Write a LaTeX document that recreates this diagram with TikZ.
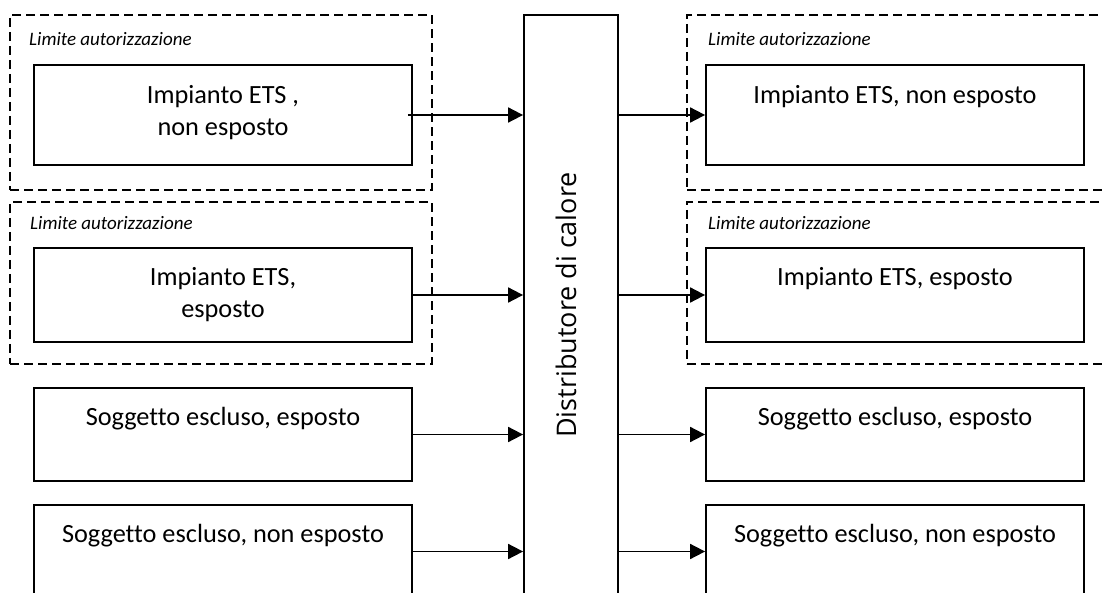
\documentclass[tikz,border=0pt]{standalone}
\usepackage{fontspec}
\setmainfont{Carlito}[Ligatures=NoCommon]
\newfontfamily\distrfont{Open Sans}
\usetikzlibrary{arrows.meta}
\tikzstyle{blocco} = [rectangle, minimum width=378pt, draw=black, line width=1.8pt]
\tikzstyle{limite} = [rectangle, draw=black, dash pattern=on 9pt off 5pt, line width=1.5pt]
\tikzstyle{testo} = [anchor=north, align=center, inner sep=0pt, font=\fontsize{26.3}{32}\selectfont]
\tikzstyle{nota} = [anchor=base west, inner sep=0pt, font=\fontsize{19}{22}\selectfont\itshape]
\tikzstyle{freccia} = [line width=1.8pt,-{Triangle[length=15pt,width=15pt]}]

\begin{document}
\begin{tikzpicture}[x=1pt, y=-1pt]
        \useasboundingbox (0,0) rectangle (1102,593);
        \clip (0,0) rectangle (1102,593);
        % limiti autorizzazione
        \node (limsx1) [limite, minimum width=422pt, minimum height=175pt] at (221,102.5) {};
        \node (limsx2) [limite, minimum width=422pt, minimum height=162pt] at (221,283) {};
        \node (limdx1) [limite, minimum width=440pt, minimum height=175pt] at (907,102.5) {};
        \node (limdx2) [limite, minimum width=440pt, minimum height=162pt] at (907,283) {};
        \node (notasx1) [nota] at (29,45.7) {Limite autorizzazione};
        \node (notasx2) [nota] at (30,230) {Limite autorizzazione};
        \node (notadx1) [nota] at (708,45.7) {Limite autorizzazione};
        \node (notadx2) [nota] at (708,230) {Limite autorizzazione};
        % distributore
        \node (distr) [blocco, minimum width=94pt, minimum height=600pt] at (571,315) {};
        \node (distrtxt) [rotate=90, inner sep=0pt, font=\distrfont\fontsize{27}{32}\selectfont] at (566,305) {Distributore di calore};
        % impianti a sinistra
        \node (etsne) [blocco, minimum height=100pt] at (223,115) {};
        \node (etsnetxt) [testo] at ([yshift=-21pt]etsne.north) {Impianto ETS ,\\non esposto};
        \node (etse) [blocco, minimum height=94pt] at (223,295) {};
        \node (etsetxt) [testo] at ([yshift=-20pt]etse.north) {Impianto ETS,\\esposto};
        \node (escle) [blocco, minimum height=93pt] at (223,434.5) {};
        \node (escletxt) [testo] at ([yshift=-20pt]escle.north) {Soggetto escluso, esposto};
        \node (esclne) [blocco, minimum height=93pt] at (223,551.5) {};
        \node (esclnetxt) [testo] at ([yshift=-20pt]esclne.north) {Soggetto escluso, non esposto};
        % impianti a destra
        \node (detsne) [blocco, minimum height=100pt] at (895,115) {};
        \node (detsnetxt) [testo] at ([yshift=-21pt]detsne.north) {Impianto ETS, non esposto};
        \node (detse) [blocco, minimum height=94pt] at (895,295) {};
        \node (detsetxt) [testo] at ([yshift=-20pt]detse.north) {Impianto ETS, esposto};
        \node (descle) [blocco, minimum height=93pt] at (895,434.5) {};
        \node (descletxt) [testo] at ([yshift=-20pt]descle.north) {Soggetto escluso, esposto};
        \node (desclne) [blocco, minimum height=93pt] at (895,551.5) {};
        \node (desclnetxt) [testo] at ([yshift=-20pt]desclne.north) {Soggetto escluso, non esposto};
        % frecce
        \draw [freccia] ([xshift=-5pt]etsne.east) -- (etsne.east -| distr.west);
        \draw [freccia] (etse.east) -- (etse.east -| distr.west);
        \draw [freccia] (escle.east) -- (escle.east -| distr.west);
        \draw [freccia] (esclne.east) -- (esclne.east -| distr.west);
        \draw [freccia] (distr.east |- detsne.west) -- (detsne.west);
        \draw [freccia] (distr.east |- detse.west) -- (detse.west);
        \draw [freccia] (distr.east |- descle.west) -- (descle.west);
        \draw [freccia] (distr.east |- desclne.west) -- (desclne.west);
\end{tikzpicture}
\end{document}
